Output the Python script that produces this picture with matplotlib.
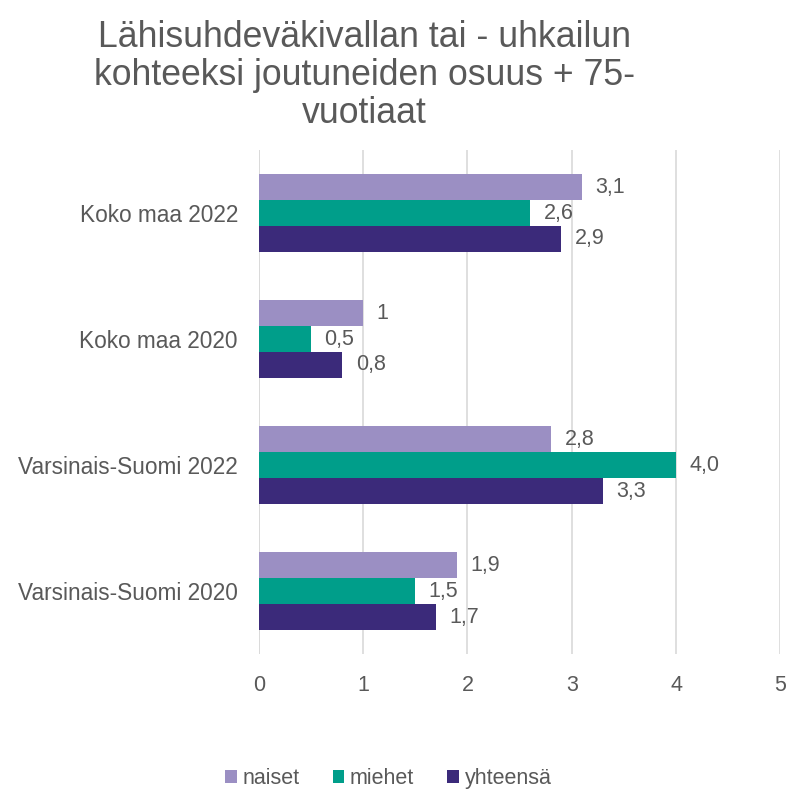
import numpy as np
import matplotlib.pyplot as plt

plt.rcParams['font.family'] = ['Liberation Sans', 'DejaVu Sans']

categories = ['Koko maa 2022', 'Koko maa 2020', 'Varsinais-Suomi 2022', 'Varsinais-Suomi 2020']
naiset = [3.1, 1.0, 2.8, 1.9]
miehet = [2.6, 0.5, 4.0, 1.5]
yhteensa = [2.9, 0.8, 3.3, 1.7]
naiset_lbl = ['3,1', '1', '2,8', '1,9']
miehet_lbl = ['2,6', '0,5', '4,0', '1,5']
yhteensa_lbl = ['2,9', '0,8', '3,3', '1,7']

colors = ['#9b8fc3', '#009e8a', '#3b2a7a']
text_col = '#595959'

fig = plt.figure(figsize=(7.89, 7.94), dpi=100)
ax = fig.add_axes([0.328, 0.176, 0.661, 0.635])

y = np.arange(len(categories))
h = 0.205
series = [('naiset', naiset, naiset_lbl), ('miehet', miehet, miehet_lbl), ('yhteensä', yhteensa, yhteensa_lbl)]
for i, (name, vals, lbls) in enumerate(series):
    bars = ax.barh(y + (i - 1) * h, vals, height=h, color=colors[i], label=name, zorder=3)
    for b, l in zip(bars, lbls):
        ax.text(b.get_width() + 0.13, b.get_y() + b.get_height() / 2, l,
                va='center', ha='left', fontsize=15.5, color=text_col, zorder=4)

ax.set_yticks(y)
ax.set_yticklabels(categories)
ax.set_ylim(3.5, -0.5)
ax.set_xlim(0, 5)
ax.set_xticks(range(6))
ax.grid(axis='x', color='#d9d9d9', linewidth=1.2, zorder=0)
ax.axvline(0, color='#d9d9d9', linewidth=1.2, zorder=1)
for s in ax.spines.values():
    s.set_visible(False)
ax.tick_params(axis='x', length=0, labelsize=15.5, colors=text_col, pad=15)
ax.tick_params(axis='y', length=0, labelsize=16.3, colors=text_col, pad=15)

fig.text(0.462, 0.975, 'Lähisuhdeväkivallan tai - uhkailun\nkohteeksi joutuneiden osuus + 75-\nvuotiaat',
         ha='center', va='top', fontsize=25.7, color=text_col, linespacing=1.12)

ax.legend(loc='center', bbox_to_anchor=(0.492, 0.019), bbox_transform=fig.transFigure,
          ncol=3, frameon=False, fontsize=15.5, labelcolor=text_col,
          handlelength=0.55, handleheight=0.55, handletextpad=0.25, columnspacing=1.55)

fig.savefig('out.png', dpi=100)
